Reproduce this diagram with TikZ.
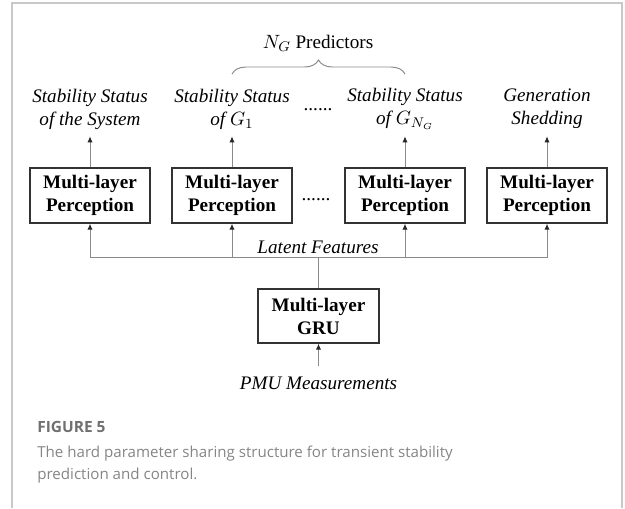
\documentclass[tikz,border=0pt]{standalone}
\usepackage{fontspec}
\setmainfont{Liberation Serif}
\newfontfamily\capfont{Open Sans}
\usepackage{xcolor}
\definecolor{FRAMEcolor}{HTML}{C8C8C8}
\definecolor{LINEcolor}{HTML}{8A8A8A}
\definecolor{BOXcolor}{HTML}{333333}
\definecolor{CAPcolor}{HTML}{707070}
\usepackage{tikz}
\usetikzlibrary{arrows.meta, decorations.pathreplacing}

\begin{document}
\begin{tikzpicture}[x=0.02cm, y=-0.02cm, every node/.style={font=\fontsize{10.9pt}{13.1pt}\selectfont}]
    \tikzset{%
        mlpbox/.style={draw=BOXcolor, line width=0.8pt, minimum width=2.4cm, minimum height=1.1cm,
                align=center, inner sep=0pt, font=\fontsize{10.9pt}{13.1pt}\selectfont\bfseries},
        italabel/.style={font=\fontsize{10.9pt}{13.1pt}\selectfont\itshape},
        outlabel/.style={italabel, align=center, minimum height=1.08cm, inner sep=0pt},
        link/.style={draw=LINEcolor, line width=0.55pt},
        uparrow/.style={link, -{Latex[length=3.4pt, width=3pt, color=black!85]}},
    }

    \useasboundingbox (0, 0) rectangle (625, 508);
    % frame
    \draw [FRAMEcolor, line width=0.6pt] (12, 508) -- (12, 3) -- (622, 3) -- (622, 508);

    % heads
    \foreach \x/\nm/\txt in {90/sys/{Stability Status\\of the System},
            232/gone/{Stability Status\\of $G_1$},
            405/gng/{Stability Status\\of $G_{N_G}$},
            547/shed/{Generation\\Shedding}} {%
            \node [mlpbox] (mlp-\nm) at (\x, 195.5) {Multi-layer\\Perception};
            \node [outlabel] (lab-\nm) at (\x, 109) {\txt};
            \draw [uparrow] (mlp-\nm.north) -- (lab-\nm.south);
        };
    \node (dots-lab) at (318, 110) {......};
    \node (dots-mlp) at (316, 200) {......};

    % predictors
    \node (pred) at (318, 43) {$N_G$ Predictors};
    \draw [link, decorate, decoration={brace, amplitude=0.28cm}] (232, 74) -- (405, 74);

    % GRU
    \node [mlpbox, minimum width=2.42cm, minimum height=1.08cm] (gru) at (318.5, 316) {Multi-layer\\GRU};
    \node [italabel, inner ysep=0.2cm] (pmu) at (318.5, 383) {PMU Measurements};
    \draw [uparrow] (pmu.north) -- (gru.south);

    % latent features
    \node [italabel] (latent) at (318, 247) {Latent Features};
    \coordinate (bus) at (318.5, 257);
    \draw [link] (gru.north) -- (bus);
    \foreach \nm in {sys, gone, gng, shed} {%
            \draw [uparrow] (bus) -| (mlp-\nm.south);
        };

    % caption
    \node [anchor=base west, inner sep=0pt, text=CAPcolor,
        font=\capfont\bfseries\fontsize{8.8pt}{11pt}\selectfont] (fig-no) at (37, 432) {FIGURE 5};
    \node [anchor=base west, inner sep=0pt, align=left, text=CAPcolor!85,
        font=\capfont\fontsize{8.6pt}{12.5pt}\selectfont] (fig-cap) at (37, 479)
        {The hard parameter sharing structure for transient stability\\prediction and control.};
\end{tikzpicture}
\end{document}
